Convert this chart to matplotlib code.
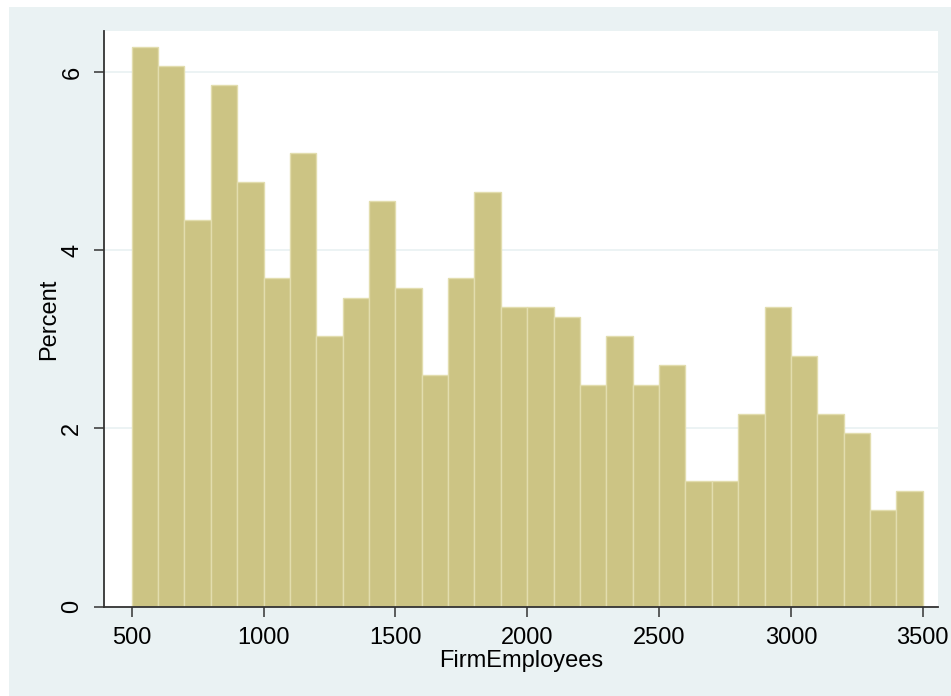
import matplotlib
matplotlib.use("Agg")
import matplotlib.pyplot as plt
import numpy as np

# Histogram of firm size: 100-employee bins from 500 to 3500
bin_edges = list(range(500, 3600, 100))
counts = [58, 56, 40, 54, 44, 34, 47, 28, 32, 42,
          33, 24, 34, 43, 31, 31, 30, 23, 28, 23,
          25, 13, 13, 20, 31, 26, 20, 18, 10, 12]
x_ticks = [500, 1000, 1500, 2000, 2500, 3000, 3500]
y_ticks = [0, 2, 4, 6]

percent = np.array(counts) / sum(counts) * 100

plt.rcParams['font.family'] = ['Liberation Sans', 'DejaVu Sans']

W, H = 951, 696
fig = plt.figure(figsize=(W / 100, H / 100), dpi=100, facecolor="white")

# light blue backdrop behind the plot region
bg = plt.Rectangle((9 / W, 0), (W - 9) / W, (H - 7) / H,
                   transform=fig.transFigure, facecolor="#EAF2F3",
                   edgecolor="none", zorder=-10)
fig.add_artist(bg)

left, right = 103.5 / W, 938.3 / W
bottom, top = 1 - 606.7 / H, 1 - 31 / H
ax = fig.add_axes([left, bottom, right - left, top - bottom])
ax.set_zorder(1)
ax.set_facecolor("white")

ax.bar(bin_edges[:-1], percent, width=100, align="edge",
       color="#CCC484", edgecolor="#E2DDAE", linewidth=1.0, zorder=2)

ax.set_xlim(393, 3559)
ax.set_ylim(0, 6.46)
ax.set_xticks(x_ticks)
ax.set_yticks(y_ticks)
ax.yaxis.grid(True, color="#EAF2F3", linewidth=1.3, zorder=1)
ax.set_axisbelow(True)

for side in ["top", "right"]:
    ax.spines[side].set_visible(False)
for side in ["left", "bottom"]:
    ax.spines[side].set_color("#333333")
    ax.spines[side].set_linewidth(1.3)

ax.tick_params(axis="both", direction="out", length=7.5, width=1.1,
               color="#333333", labelsize=17, pad=7)
ax.tick_params(axis="y", labelrotation=90)
for lbl in ax.get_yticklabels():
    lbl.set_va("center")

ax.set_xlabel("FirmEmployees", fontsize=17, labelpad=1)
ax.set_ylabel("Percent", fontsize=17, labelpad=1)

fig.savefig("out.png", dpi=100, facecolor=fig.get_facecolor())
